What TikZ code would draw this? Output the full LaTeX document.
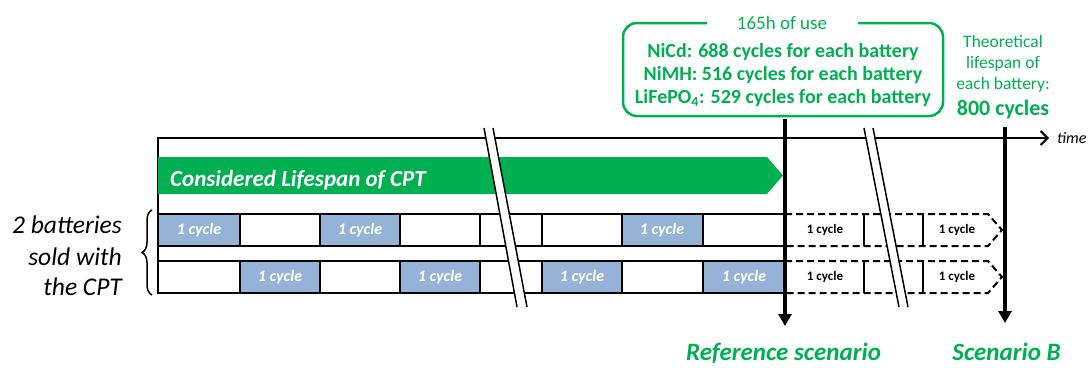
\documentclass[tikz,border=0pt]{standalone}
\usepackage{fontspec}
\setmainfont{Carlito}
\usetikzlibrary{arrows.meta,decorations.pathreplacing}
\definecolor{cgreen}{HTML}{00B050}
\definecolor{cblue}{HTML}{95B3D7}
\begin{document}
\begin{tikzpicture}[x=1pt,y=-1pt,
  frameline/.style={line width=2.5pt, black},
  cell/.style={draw=black, line width=2pt},
  bluetext/.style={text=white, font=\fontsize{16}{16}\selectfont\bfseries\itshape, inner sep=0pt},
  dashtext/.style={text=black, font=\fontsize{13}{13}\selectfont\bfseries, inner sep=0pt},
  dashrow/.style={line width=2pt, dash pattern=on 7pt off 4pt},
  slashline/.style={line width=1.5pt, black},
  vertarrow/.style={line width=4.5pt, -{Triangle[length=12pt,width=13pt]}},
  greentext/.style={text=cgreen, inner sep=0pt},
  lefttext/.style={font=\fontsize{25.5}{25.5}\selectfont\itshape, anchor=base east, inner sep=0pt}
]
\useasboundingbox (0,0) rectangle (1090,367);

% --- top green box
\draw[cgreen, line width=2.5pt, rounded corners=14pt] (707,23) -- (623,23) -- (623,116) -- (943,116) -- (943,23) -- (858,23);
\node[greentext, anchor=base, font=\fontsize{19}{19}\selectfont] (use) at (782,29.5) {165h of use};
\node[greentext, anchor=base, font=\fontsize{20}{20}\selectfont\bfseries] (nicd) at (783,57) {NiCd: 688 cycles for each battery};
\node[greentext, anchor=base, font=\fontsize{20}{20}\selectfont\bfseries] (nimh) at (783,80) {NiMH: 516 cycles for each battery};
\node[greentext, anchor=base, font=\fontsize{20}{20}\selectfont\bfseries] (life) at (783,103) {LiFePO\textsubscript{4}: 529 cycles for each battery};

% --- theoretical lifespan
\node[greentext, anchor=base, font=\fontsize{17.5}{17.5}\selectfont] (th1) at (1003,47) {Theoretical};
\node[greentext, anchor=base, font=\fontsize{17.5}{17.5}\selectfont] (th2) at (1003,68) {lifespan of};
\node[greentext, anchor=base, font=\fontsize{17.5}{17.5}\selectfont] (th3) at (1003,89) {each battery:};
\node[greentext, anchor=base, font=\fontsize{22}{22}\selectfont\bfseries] (th4) at (1003,115) {800 cycles};

% --- timeline frame
\coordinate (tlA) at (158,293);
\coordinate (tlB) at (158,138);
\coordinate (tlC) at (870,138);
\coordinate (tlD) at (1049,138);
\draw[frameline] (tlA) -- (tlB) -- (tlC);
\draw[line width=1.8pt, -{Straight Barb[length=7pt,width=14pt,line width=2pt]}] (tlC) -- (tlD);
\node[anchor=base west, inner sep=0pt, font=\fontsize{16}{16}\selectfont\itshape] (time) at (1057,143) {time};

% --- green lifespan arrow
\fill[cgreen] (158,157) -- (767,157) -- (783,175.5) -- (767,194) -- (158,194) -- cycle;
\node[anchor=base west, inner sep=0pt, text=white, font=\fontsize{23}{23}\selectfont\bfseries\itshape] (cpt) at (170,186) {Considered Lifespan of CPT};

% --- battery rows
\foreach \a/\b/\c in {158/240/cblue, 240/320/white, 320/400/cblue, 400/480/white, 480/542/white, 542/622/white, 622/703/cblue, 703/785/white}
  \draw[cell, fill=\c] (\a,214) rectangle (\b,246);
\foreach \a/\b/\c in {158/240/white, 240/320/cblue, 320/400/white, 400/480/cblue, 480/542/white, 542/622/cblue, 622/703/white, 703/785/cblue}
  \draw[cell, fill=\c] (\a,261) rectangle (\b,293);
\draw[frameline] (158,214) -- (785,214);
\draw[frameline] (158,246) -- (785,246);
\draw[frameline] (158,261) -- (785,261);
\draw[frameline] (158,293) -- (785,293);
\foreach \x in {199,360,662}
  \node[bluetext] (ra\x) at (\x,230) {1 cycle};
\foreach \x in {280,440,582,744}
  \node[bluetext] (rb\x) at (\x,277) {1 cycle};

% --- dashed future rows
\draw[dashrow] (785,214) -- (988,214) -- (1002,230) -- (988,246) -- (785,246);
\draw[dashrow] (785,261) -- (988,261) -- (1002,277) -- (988,293) -- (785,293);
\foreach \x in {864,923} {
  \draw[line width=2pt] (\x,214) -- (\x,246);
  \draw[line width=2pt] (\x,261) -- (\x,293);
}
\node[dashtext] (da1) at (825,230) {1 cycle};
\node[dashtext] (da2) at (957,230) {1 cycle};
\node[dashtext] (db1) at (825,277) {1 cycle};
\node[dashtext] (db2) at (957,277) {1 cycle};

% --- break slashes
\fill[white] (484,128) -- (493,128) -- (527,307) -- (517,307) -- cycle;
\draw[slashline] (484,128) -- (517,307);
\draw[slashline] (493,128) -- (527,307);
\fill[white] (864,128) -- (873,128) -- (908,307) -- (899,307) -- cycle;
\draw[slashline] (864,128) -- (899,307);
\draw[slashline] (873,128) -- (908,307);

% --- scenario arrows
\coordinate (refTop) at (785,119);
\coordinate (refBot) at (785,326);
\coordinate (sbTop) at (1005,127);
\coordinate (sbBot) at (1005,323);
\draw[vertarrow] (refTop) -- (refBot);
\draw[vertarrow] (sbTop) -- (sbBot);
\node[greentext, anchor=base, font=\fontsize{25}{25}\selectfont\bfseries\itshape] (refl) at (783.5,360.5) {Reference scenario};
\node[greentext, anchor=base, font=\fontsize{25}{25}\selectfont\bfseries\itshape] (sbl) at (1006.5,360.5) {Scenario B};

% --- left label and brace
\node[lefttext] (l1) at (122,233.5) {2 batteries};
\node[lefttext] (l2) at (122,265) {sold with};
\node[lefttext] (l3) at (122,295.5) {the CPT};
\coordinate (brBot) at (152,295);
\coordinate (brTop) at (152,210);
\draw[line width=1.5pt, decorate, decoration={brace, amplitude=10pt}] (brBot) -- (brTop);
\end{tikzpicture}
\end{document}
